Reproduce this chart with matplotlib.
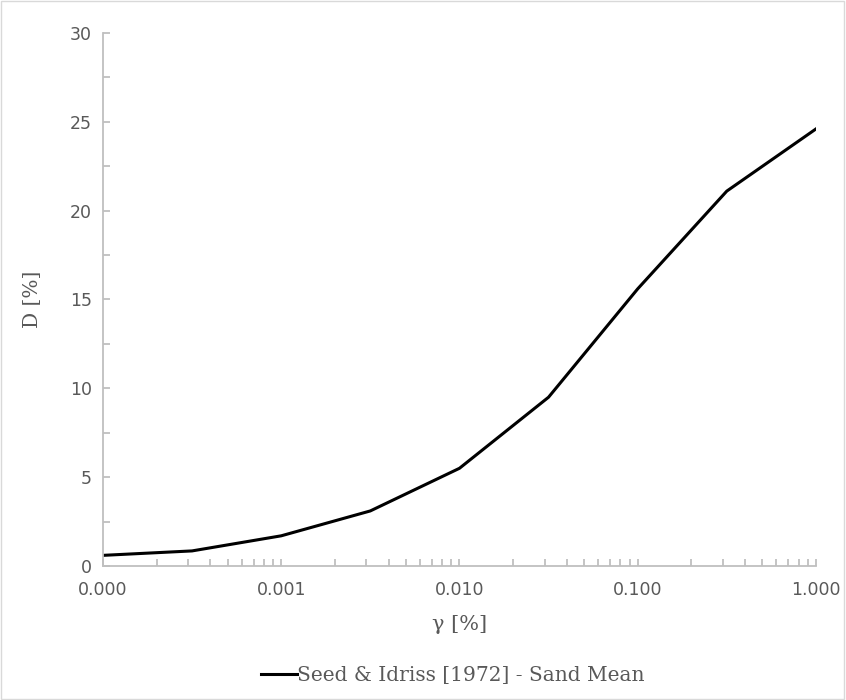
import matplotlib.pyplot as plt
from matplotlib.ticker import FixedLocator, FuncFormatter
from matplotlib.patches import Rectangle

# Seed & Idriss (1972) damping curve for sand, mean values
strain = [0.0001, 0.000316, 0.001, 0.00316, 0.01, 0.0316, 0.1, 0.316, 1.0]
damping = [0.6, 0.85, 1.7, 3.1, 5.5, 9.5, 15.6, 21.1, 24.6]
x_ticks = [0.0001, 0.001, 0.01, 0.1, 1.0]
x_tick_labels = ["0.000", "0.001", "0.010", "0.100", "1.000"]

axis_grey = "#bfbfbf"
text_grey = "#595959"
serif = ["DejaVu Serif"]
sans = ["DejaVu Sans"]

fig = plt.figure(figsize=(8.46, 7.0), dpi=100)
ax = fig.add_axes([0.1217, 0.1914, 0.8428, 0.7615])

ax.plot(strain, damping, color="black", lw=2.2, label="Seed & Idriss [1972] - Sand Mean",
        solid_joinstyle="miter")

ax.set_xscale("log")
ax.set_xlim(0.0001, 1.0)
ax.set_ylim(0, 30)
ax.xaxis.set_major_locator(FixedLocator(x_ticks))
ax.xaxis.set_major_formatter(FuncFormatter(
    lambda v, p: dict(zip(x_ticks, x_tick_labels)).get(v, "")))
ax.set_yticks(range(0, 31, 5))
ax.set_yticks([2.5 + 5 * i for i in range(6)], minor=True)

for side in ["top", "right"]:
    ax.spines[side].set_visible(False)
for side in ["left", "bottom"]:
    ax.spines[side].set_color(axis_grey)
    ax.spines[side].set_linewidth(1.3)

ax.tick_params(which="both", direction="in", color=axis_grey, width=1.3, length=5)
ax.tick_params(axis="both", which="major", labelsize=12.5, labelcolor=text_grey, pad=8)
ax.tick_params(axis="x", which="major", pad=11)
for lbl in ax.get_xticklabels() + ax.get_yticklabels():
    lbl.set_fontfamily(sans)

ax.set_xlabel("γ [%]", fontsize=15, color=text_grey, family=serif, labelpad=11)
ax.set_ylabel("D [%]", fontsize=14.5, color=text_grey, family=serif, labelpad=20)

# legend sits centred under the plot area
leg = fig.legend(loc="center", bbox_to_anchor=(0.535, 0.035), frameon=False,
                 handlelength=1.8, handletextpad=0.0,
                 prop={"family": serif, "size": 14.5})
for t in leg.get_texts():
    t.set_color(text_grey)

# light outer border of the chart area
fig.patches.append(Rectangle((0.001, 0.001), 0.997, 0.997, transform=fig.transFigure,
                             fill=False, edgecolor="#d9d9d9", lw=1))

fig.savefig("out.png", dpi=100)
